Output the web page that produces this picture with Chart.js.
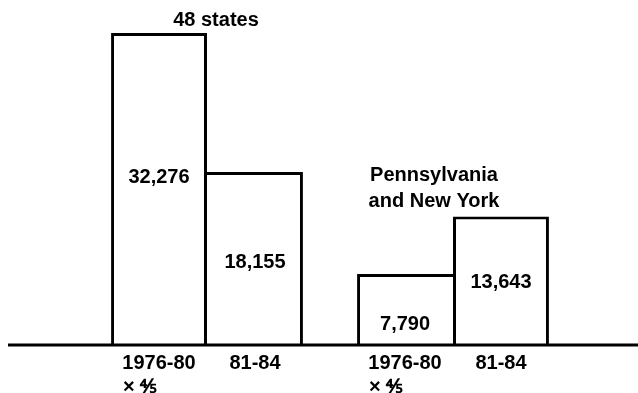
<!DOCTYPE html>
<html lang="en">
<head>
  <meta charset="UTF-8">
  <title>48 states vs Pennsylvania and New York</title>
  <style>
    body {
      margin: 0;
      background: #fff;
    }
    #chart-container {
      width: 638px;
      height: 393px;
    }
  </style>
</head>
<body>
  <div id="chart-container">
    <canvas id="barChart"></canvas>
  </div>

  <script src="https://cdn.jsdelivr.net/npm/chart.js"></script>
  <script>
    // data
    const groups = ['48 states', ['Pennsylvania', 'and New York']];
    const periods = ['1976-80', '81-84'];
    const earlyValues = [32276, 7790];   // 1976-80 x 4/5
    const lateValues = [18155, 13643];   // 81-84
    const earlyNote = '× ⅘';

    const FONT = "'Liberation Sans', Arial, sans-serif";

    // small nudges so the text sits where the original has it
    const valueShift = [[-14, 12], [1, -1]];
    const titleShift = [9, -19];

    const fmt = v => v.toLocaleString('en-US');

    const drawText = {
      id: 'drawText',
      afterDatasetsDraw(chart) {
        const ctx = chart.ctx;
        const area = chart.chartArea;
        const xScale = chart.scales.x;

        ctx.save();
        // baseline across the page
        ctx.strokeStyle = '#000';
        ctx.lineWidth = 3;
        ctx.beginPath();
        ctx.moveTo(8, area.bottom);
        ctx.lineTo(chart.width, area.bottom);
        ctx.stroke();

        ctx.fillStyle = '#000';
        ctx.textAlign = 'center';
        ctx.textBaseline = 'middle';
        ctx.font = 'bold 20px ' + FONT;

        chart.data.datasets.forEach((ds, di) => {
          const meta = chart.getDatasetMeta(di);
          meta.data.forEach((bar, i) => {
            const mid = (bar.y + bar.base) / 2 + valueShift[di][i];
            ctx.fillText(fmt(ds.data[i]), bar.x, mid);
            ctx.fillText(periods[di], bar.x, area.bottom + 18);
            if (di === 0) {
              ctx.textAlign = 'left';
              ctx.fillText(earlyNote, bar.x - 36, area.bottom + 42);
              ctx.textAlign = 'center';
            }
          });
        });

        // group titles
        const firstTop = chart.getDatasetMeta(0).data[0].y;
        ctx.fillText(groups[0], xScale.getPixelForValue(0) + titleShift[0], firstTop - 12);
        const lateTop = chart.getDatasetMeta(1).data[1].y;
        ctx.fillText(groups[1][0], xScale.getPixelForValue(1) + titleShift[1], lateTop - 41);
        ctx.fillText(groups[1][1], xScale.getPixelForValue(1) + titleShift[1], lateTop - 15);
        ctx.restore();
      }
    };

    new Chart(document.getElementById('barChart'), {
      type: 'bar',
      data: {
        labels: ['48 states', 'Pennsylvania and New York'],
        datasets: [{
          label: '1976-80 x 4/5',
          data: earlyValues,
          backgroundColor: '#fff',
          borderColor: '#000',
          borderWidth: [{ top: 3, left: 3, right: 3, bottom: 0 }, { top: 3, left: 3, right: 0, bottom: 0 }],
          borderSkipped: false
        }, {
          label: '81-84',
          data: lateValues,
          backgroundColor: '#fff',
          borderColor: '#000',
          borderWidth: [{ top: 3, left: 0, right: 3, bottom: 0 }, { top: 3, left: 3, right: 3, bottom: 0 }],
          borderSkipped: false
        }]
      },
      options: {
        responsive: true,
        maintainAspectRatio: false,
        animation: false,
        layout: {
          padding: { left: 84, right: 62, top: 10, bottom: 48 }
        },
        datasets: {
          bar: {
            categoryPercentage: 0.78,
            barPercentage: 1
          }
        },
        plugins: {
          legend: { display: false },
          tooltip: { enabled: false }
        },
        scales: {
          x: { display: false },
          y: { display: false, min: 580, max: 34610 }
        }
      },
      plugins: [drawText]
    });
  </script>
</body>
</html>
